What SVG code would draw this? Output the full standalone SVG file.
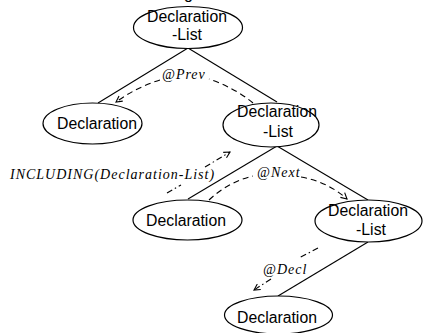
<svg xmlns="http://www.w3.org/2000/svg" width="423" height="333" viewBox="0 0 423 333">
  <defs>
    <marker id="vhead" viewBox="0 0 8 8" refX="7" refY="4" markerWidth="8" markerHeight="8" markerUnits="userSpaceOnUse" orient="auto">
      <path d="M1,0.8 L7,4 L1,7.2" fill="none" stroke="#000" stroke-width="1.1"/>
    </marker>
    <style>
      .node ellipse { fill: #fff; stroke: #000; stroke-width: 1.2; }
      .node text { font-family: "Liberation Sans", Arial, sans-serif; font-size: 15.8px; fill: #000; text-anchor: middle; }
      .edge { fill: none; stroke: #000; stroke-width: 1.1; }
      .dash { fill: none; stroke: #000; stroke-width: 1.1; stroke-dasharray: 6 4; }
      .dashdot { fill: none; stroke: #000; stroke-width: 1.1; stroke-dasharray: 6 3 1.5 3; }
      .lbl { font-family: "Liberation Serif", "Times New Roman", serif; font-style: italic; font-size: 14px; letter-spacing: 1px; fill: #000; }
    </style>
  </defs>
  <rect width="423" height="333" fill="#fff"/>

  <!-- caption fragment above the tree -->
  <text x="184" y="-1.5" font-family="Liberation Sans, Arial, sans-serif" font-size="16">g</text>

  <!-- tree edges and attribute-flow arrows -->
  <g id="connectors">
    <path class="edge" d="M188,48 L98,103"/>
    <path class="edge" d="M188,48 L277,102"/>
    <path class="edge" d="M277,146 L188,199"/>
    <path class="edge" d="M277,146 L368,200"/>
    <path class="edge" d="M368,242 L278,296"/>

    <!-- @Prev -->
    <path class="dash" d="M253,103 Q235,88 209,79"/>
    <path class="dash" d="M160,80 Q137,87 116,102" marker-end="url(#vhead)"/>
    <text class="lbl" x="162" y="79">@Prev</text>

    <!-- INCLUDING -->
    <path class="dashdot" d="M167,193 L181,185"/>
    <path class="dashdot" d="M205,167 L230,152" marker-end="url(#vhead)"/>
    <text class="lbl" x="10" y="179">INCLUDING(Declaration-List)</text>

    <!-- @Next -->
    <path class="dash" d="M209,200 Q228,182 253,176"/>
    <path class="dash" d="M301,177 Q328,182 347,199" marker-end="url(#vhead)"/>
    <text class="lbl" x="257" y="177">@Next</text>

    <!-- @Decl -->
    <path class="dashdot" d="M318,248 L299,258"/>
    <path class="dashdot" d="M271,279 L254,290" marker-end="url(#vhead)"/>
    <text class="lbl" x="263" y="274">@Decl</text>
  </g>

  <g id="root-list" class="node">
    <ellipse cx="188" cy="27.5" rx="54.5" ry="21"/>
    <text x="187" y="22">Declaration</text>
    <text x="187" y="40">-List</text>
  </g>

  <g id="decl-left" class="node">
    <ellipse cx="92.5" cy="123.5" rx="49.5" ry="20.5"/>
    <text x="97" y="129">Declaration</text>
  </g>

  <g id="list-middle" class="node">
    <ellipse cx="271" cy="125" rx="48" ry="22"/>
    <text x="277" y="117">Declaration</text>
    <text x="278" y="137">-List</text>
  </g>

  <g id="decl-middle" class="node">
    <ellipse cx="187.5" cy="220" rx="54.5" ry="20"/>
    <text x="186" y="226">Declaration</text>
  </g>

  <g id="list-right" class="node">
    <ellipse cx="368.5" cy="221" rx="53.5" ry="21"/>
    <text x="368" y="216">Declaration</text>
    <text x="371" y="235">-List</text>
  </g>

  <g id="decl-bottom" class="node">
    <ellipse cx="278.5" cy="315" rx="54" ry="19"/>
    <text x="277" y="323">Declaration</text>
  </g>
</svg>
